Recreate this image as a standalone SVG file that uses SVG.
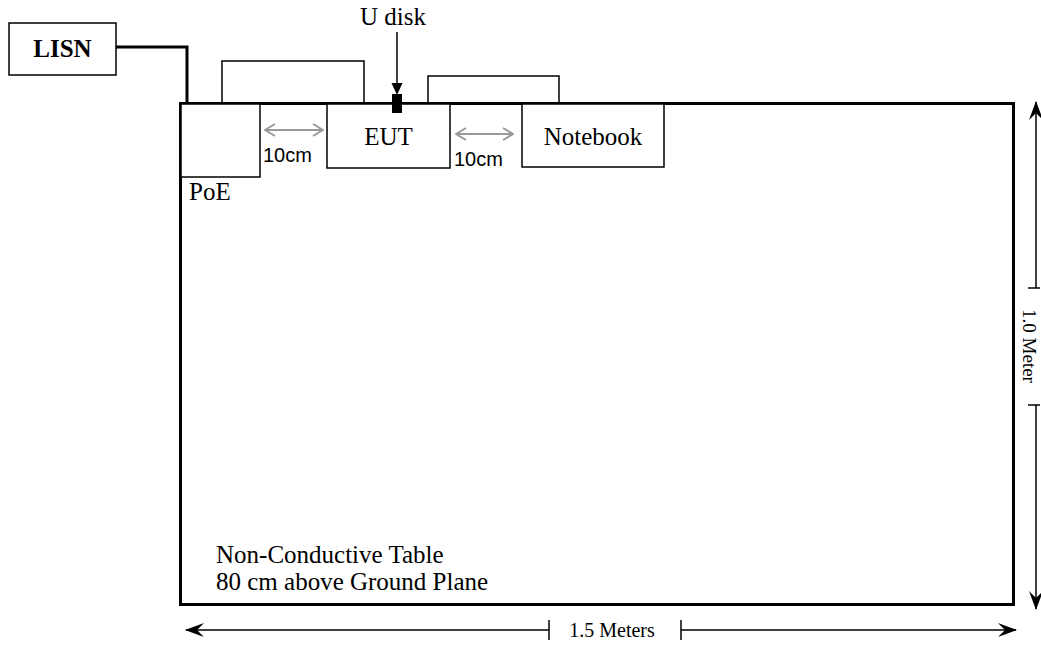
<svg xmlns="http://www.w3.org/2000/svg" width="1041" height="645" viewBox="0 0 1041 645">
  <defs>
    <style>
      .t { font-family: "Liberation Serif", "Times New Roman", serif; fill: #000; }
      .a { font-family: "Liberation Sans", Arial, sans-serif; fill: #000; }
      .box { fill: #fff; stroke: #000; stroke-width: 1.5; }
      .thin { fill: none; stroke: #000; stroke-width: 1.5; }
      .gray { fill: none; stroke: #999; stroke-width: 2; }
      .dim { fill: none; stroke: #000; stroke-width: 1.5; }
    </style>
    <marker id="barb" viewBox="0 0 20 14" refX="19" refY="7" markerWidth="20" markerHeight="14" markerUnits="userSpaceOnUse" orient="auto-start-reverse">
      <path d="M20,7 L1,0 L8,7 L1,14 Z" fill="#000"/>
    </marker>
    <marker id="gch" viewBox="0 0 12 14" refX="11" refY="7" markerWidth="12" markerHeight="14" markerUnits="userSpaceOnUse" orient="auto-start-reverse">
      <path d="M1,1 L11,7 L1,13" fill="none" stroke="#999" stroke-width="2"/>
    </marker>
  </defs>

  <g id="table">
    <rect x="180.5" y="103.5" width="833" height="501" fill="none" stroke="#000" stroke-width="3"/>
    <text class="t" x="216" y="563" font-size="25">Non-Conductive Table</text>
    <text class="t" x="216" y="590" font-size="25">80 cm above Ground Plane</text>
  </g>

  <g id="connectors">
    <polyline points="116,47 187,47 187,103" fill="none" stroke="#000" stroke-width="3"/>
    <polyline class="thin" points="222,103 222,61 364,61 364,103"/>
    <polyline class="thin" points="428,103 428,76 559,76 559,103"/>
    <line x1="397" y1="32" x2="397" y2="84" stroke="#000" stroke-width="1.5"/>
    <path d="M391.5,83 L402.5,83 L397,95 Z" fill="#000"/>
    <line class="gray" x1="265" y1="130" x2="323" y2="130" marker-start="url(#gch)" marker-end="url(#gch)"/>
    <line class="gray" x1="456" y1="134" x2="513" y2="134" marker-start="url(#gch)" marker-end="url(#gch)"/>
  </g>

  <g id="lisn">
    <rect class="box" x="9" y="23" width="107" height="52"/>
    <text class="t" x="62.5" y="57" font-size="25" font-weight="bold" text-anchor="middle">LISN</text>
  </g>

  <g id="poe">
    <rect class="box" x="181" y="104" width="79" height="73"/>
    <text class="t" x="189" y="200" font-size="25">PoE</text>
  </g>

  <g id="eut">
    <rect class="box" x="327" y="104" width="123" height="64"/>
    <text class="t" x="388.5" y="145" font-size="25" text-anchor="middle">EUT</text>
  </g>

  <g id="notebook">
    <rect class="box" x="522" y="104" width="142" height="63"/>
    <text class="t" x="593" y="145" font-size="25" text-anchor="middle">Notebook</text>
  </g>

  <g id="udisk">
    <rect x="392" y="94" width="10" height="19" fill="#000"/>
    <text class="t" x="393" y="25" font-size="25" text-anchor="middle">U disk</text>
  </g>

  <g id="labels">
    <text class="a" x="263" y="162" font-size="20">10cm</text>
    <text class="a" x="454" y="166" font-size="20">10cm</text>
  </g>

  <g id="dimensions">
    <line class="dim" x1="186" y1="630" x2="549" y2="630" marker-start="url(#barb)"/>
    <line class="dim" x1="549" y1="620" x2="549" y2="640"/>
    <line class="dim" x1="681" y1="630" x2="1016" y2="630" marker-end="url(#barb)"/>
    <line class="dim" x1="681" y1="620" x2="681" y2="640"/>
    <text class="t" x="612" y="637" font-size="20" text-anchor="middle">1.5 Meters</text>

    <line class="dim" x1="1036" y1="102" x2="1036" y2="288" marker-start="url(#barb)"/>
    <line class="dim" x1="1028" y1="288" x2="1040" y2="288"/>
    <line class="dim" x1="1036" y1="405" x2="1036" y2="609" marker-end="url(#barb)"/>
    <line class="dim" x1="1028" y1="405" x2="1040" y2="405"/>
    <text class="t" x="0" y="0" font-size="19" text-anchor="middle" transform="translate(1023,346) rotate(90)">1.0 Meter</text>
  </g>
</svg>
